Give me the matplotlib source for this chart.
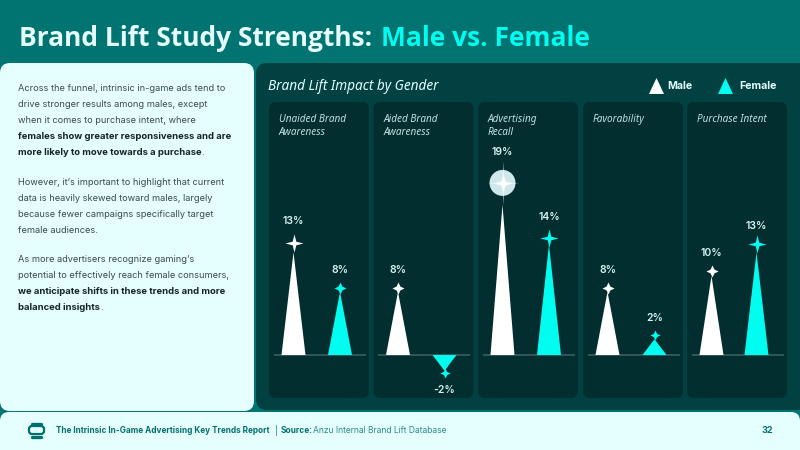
import matplotlib
matplotlib.use("Agg")
import matplotlib.pyplot as plt
from matplotlib.patches import FancyBboxPatch, Circle, Polygon
from matplotlib.path import Path
from matplotlib.transforms import Affine2D

# metrics and lift values, male then female
categories = ["Unaided Brand\nAwareness", "Aided Brand\nAwareness", "Advertising\nRecall",
              "Favorability", "Purchase Intent"]
male_lift = [13, 8, 19, 8, 10]
female_lift = [8, -2, 14, 2, 13]

title_parts = ["Brand Lift Study Strengths: ", "Male vs. Female"]
chart_title = "Brand Lift Impact by Gender"
legend_labels = ["Male", "Female"]

# (text, bold) runs per line of the side copy, None leaves a paragraph gap
body_lines = [
    [("Across the funnel, intrinsic in-game ads tend to", False)],
    [("drive stronger results among males, except", False)],
    [("when it comes to purchase intent, where", False)],
    [("females show greater responsiveness and are", True)],
    [("more likely to move towards a purchase", True), (".", False)],
    None,
    [("However, it\u2019s important to highlight that current", False)],
    [("data is heavily skewed toward males, largely", False)],
    [("because fewer campaigns specifically target", False)],
    [("female audiences.", False)],
    None,
    [("As more advertisers recognize gaming\u2019s", False)],
    [("potential to effectively reach female consumers,", False)],
    [("we anticipate shifts in these trends and more", True)],
    [("balanced insights", True), (".", False)],
]

footer_report = "The Intrinsic In-Game Advertising Key Trends Report"
footer_source = "Anzu Internal Brand Lift Database"
page_number = "32"

W, H = 800, 450
TEAL = "#017472"
PANEL = "#014142"
CARD = "#022e30"
PALE = "#e5ffff"
CYAN = "#00fdf0"
WHITE = "#ffffff"
LABEL = "#d5f2f0"
BODY_FONT = "Inter"
HEAD_FONT = "Noto Sans"
TITLE_FONT = "Open Sans"

CARD_LEFT = [269, 373.5, 478, 583, 687]
CARD_WIDTH = 100
CARD_TOP, CARD_BOTTOM = 102, 398
BASE_Y = 355
PX_PER_POINT = 7.9
SLOT_LEFT = 24.5     # card edge to the male triangle
SLOT_GAP = [46.5, 46.5, 46.5, 47, 45]
TRI_HALF = 12

# star radius and gap above the tip, label gap, in pixels: male then female
star_r = [[9, 6, 9, 6, 6], [6, 5, 9, 5, 9]]
star_gap = [[9, 4, 22, 4, 5], [4, 2, 6, 4, 8]]
label_gap = [[31, 22, 53, 22, 23], [22, 19, 27, 21, 26]]

fig = plt.figure(figsize=(W / 100, H / 100), dpi=100, facecolor=TEAL)
bg = fig.add_axes([0, 0, 1, 1])
bg.set_xlim(0, W)
bg.set_ylim(H, 0)
bg.axis("off")


def rounded(ax, x, y, w, h, r, color, **kw):
    patch = FancyBboxPatch((x + r, y + r), w - 2 * r, h - 2 * r,
                           boxstyle=f"round,pad={r},rounding_size={r}",
                           fc=color, ec="none", **kw)
    ax.add_patch(patch)
    return patch


def text_runs(x, y, runs, sizes, colors, family=BODY_FONT):
    renderer = fig.canvas.get_renderer()
    for content, bold in runs:
        t = bg.text(x, y, content, fontsize=sizes[bold], family=family, va="center", ha="left",
                    fontweight="bold" if bold else "normal", color=colors[bold])
        x = t.get_window_extent(renderer).x1


def star_marker(inner, wide=1.0):
    pts = [(0, 1), (inner, inner), (wide, 0), (inner, -inner),
           (0, -1), (-inner, -inner), (-wide, 0), (-inner, inner), (0, 1)]
    return Path(pts, closed=True)


rounded(bg, 0, 63, 254, 348, 10, PALE)
rounded(bg, 256, 63, 556, 347, 11, PANEL)
rounded(bg, 0, 412, 800, 60, 9, PALE)

# page heading
bg.text(19, 38, title_parts[0], fontsize=19, family=TITLE_FONT, fontweight="bold",
        color=PALE, va="center")
bg.text(381, 38, title_parts[1], fontsize=19, family=TITLE_FONT, fontweight="bold",
        color=CYAN, va="center")

# side copy
line_y = 88.7
for runs in body_lines:
    if runs is None:
        line_y += 13.5
        continue
    text_runs(18, line_y, runs, {False: 6.65, True: 6.8}, {False: "#3b4a4c", True: "#162426"})
    line_y += 16

# chart heading and legend
bg.text(268, 86, chart_title, fontsize=9.8, family=HEAD_FONT, style="italic",
        color=PALE, va="center")
for x0, color, name, tx in [(649, WHITE, legend_labels[0], 667), (718, CYAN, legend_labels[1], 739)]:
    bg.add_patch(Polygon([(x0, 94), (x0 + 7.5, 78), (x0 + 15, 94)], fc=color, ec="none"))
    bg.text(tx, 86, name, fontsize=7.6, family=BODY_FONT, fontweight="bold", color=PALE, va="center")

peak = max(male_lift + female_lift)

# one small axes per metric, sharing the same lift scale
for i, name in enumerate(categories):
    rounded(bg, CARD_LEFT[i], CARD_TOP, CARD_WIDTH, CARD_BOTTOM - CARD_TOP, 7, CARD)
    ax = fig.add_axes([CARD_LEFT[i] / W, (H - CARD_BOTTOM) / H,
                       CARD_WIDTH / W, (CARD_BOTTOM - CARD_TOP) / H])
    ax.patch.set_alpha(0)
    ax.axis("off")
    gap = SLOT_GAP[i]
    ax.set_xlim(-SLOT_LEFT / gap, (CARD_WIDTH - SLOT_LEFT) / gap)
    ax.set_ylim((BASE_Y - CARD_BOTTOM) / PX_PER_POINT, (BASE_Y - CARD_TOP) / PX_PER_POINT)
    half = TRI_HALF / gap

    ax.plot([-20 / gap, 72 / gap], [0, 0], color="#3d6466", lw=1.1, solid_capstyle="butt", zorder=1)
    ax.annotate(name, xy=(0, 1), xycoords="axes fraction", xytext=(10, -12),
                textcoords="offset pixels", va="top", ha="left", fontsize=7.2,
                family=HEAD_FONT, style="italic", color="#bfe0df", linespacing=1.2)

    for j, (vals, color) in enumerate([(male_lift, WHITE), (female_lift, CYAN)]):
        v = vals[i]
        sign = 1 if v >= 0 else -1
        ax.fill([j - half, j, j + half], [0, v, 0], color=color, lw=0, zorder=3)
        offset = Affine2D().translate(0, sign * star_gap[j][i])
        if v == peak:
            # highlighted peak gets a pale halo with a soft glint over it
            halo = Circle((0, 0), 13, fc="#cfe8eb", ec="none", zorder=4,
                          transform=Affine2D().translate(*ax.transData.transform((j, v))) + offset)
            ax.add_artist(halo)
            ax.plot([j], [v], marker=star_marker(0.05, wide=0.7), ms=22 * 2 * 0.72, mfc=color, mew=0,
                    alpha=0.55, ls="none", zorder=4.5, transform=ax.transData + offset)
            marker = star_marker(0.24)
        else:
            marker = star_marker(0.2 if star_r[j][i] > 7 else 0.32)
        ax.plot([j], [v], marker=marker, ms=star_r[j][i] * 2 * 0.72, mfc=color, mew=0, ls="none",
                zorder=5, transform=ax.transData + offset)
        ax.annotate(f"{v}%", xy=(j, v), xytext=(0, sign * label_gap[j][i]), textcoords="offset pixels",
                    ha="center", va="center", fontsize=7.5, family=BODY_FONT, fontweight="semibold",
                    color=LABEL, zorder=6)

# footer logo and credits
bg.add_patch(FancyBboxPatch((30.5, 427.5), 12, 5, boxstyle="round,pad=1.5,rounding_size=3",
                            fc="none", ec="#00706c", lw=1.6))
bg.plot([32, 41], [424, 424], color="#00706c", lw=2.4, solid_capstyle="round")
bg.plot([32, 41], [436.5, 436.5], color="#00706c", lw=2.4, solid_capstyle="round")
bg.text(56, 430.5, footer_report, fontsize=5.95, family=BODY_FONT, fontweight="bold", color="#05706c", va="center")
bg.text(275, 430.5, "|", fontsize=6.1, family=BODY_FONT, color="#05706c", va="center")
bg.text(281, 430.5, "Source:", fontsize=6.0, family=BODY_FONT, fontweight="bold", color="#05706c", va="center")
bg.text(313, 430.5, footer_source, fontsize=6.1, family=BODY_FONT, color="#2b8a86", va="center")
bg.text(767, 430.5, page_number, fontsize=6.6, family=BODY_FONT, fontweight="bold", color="#05706c",
        va="center", ha="center")

fig.savefig("out.png", dpi=100, facecolor=TEAL)
